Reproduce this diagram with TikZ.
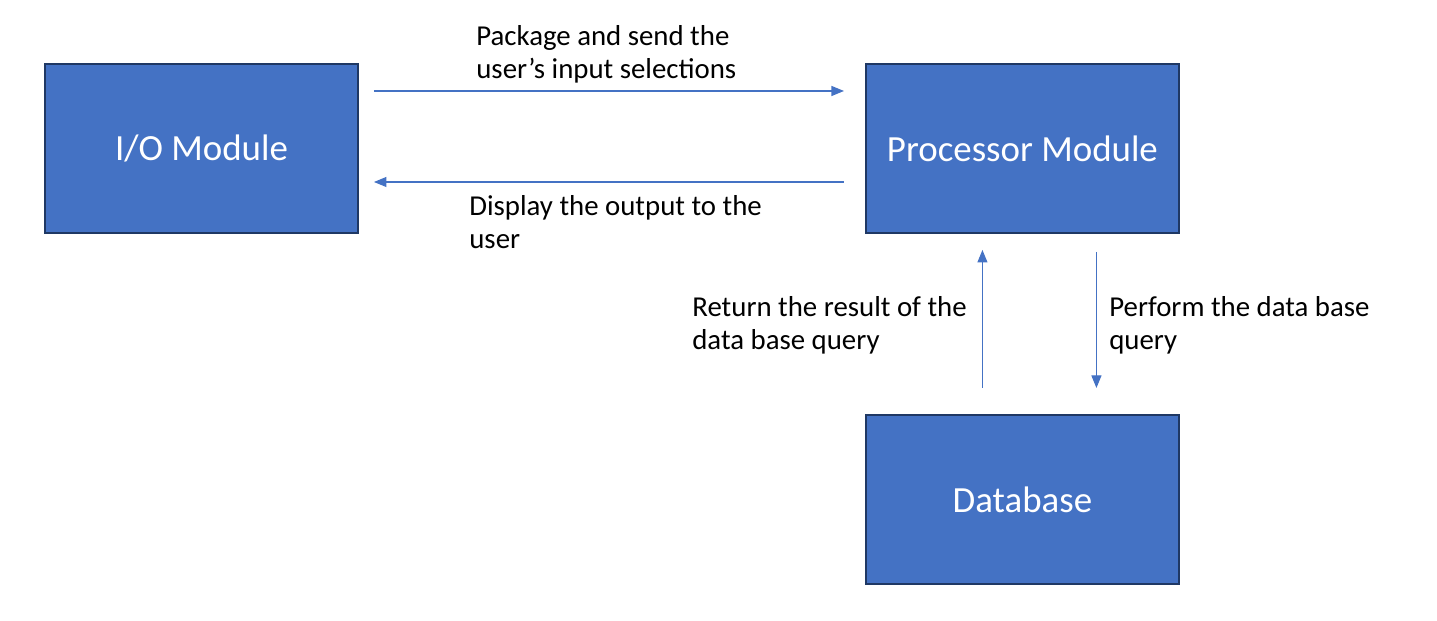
\documentclass[tikz,border=0pt]{standalone}
\usepackage{xcolor}
\usepackage{fontspec}
\setmainfont{Carlito}
\usepackage{tikz}
\usetikzlibrary{arrows.meta, positioning}

\definecolor{boxblue}{HTML}{4472C4}
\definecolor{boxedge}{HTML}{1F3864}

\begin{document}
\begin{tikzpicture}[
    module/.style={rectangle, draw=boxedge, line width=1.1pt, fill=boxblue, text=white, minimum width=6.26cm, minimum height=3.38cm, font=\fontsize{21}{24}\selectfont},
    arrow/.style={-{Triangle[length=0.25cm, width=0.2cm]}, draw=boxblue, line width=0.6pt},
    note/.style={anchor=north west, inner sep=0pt, align=left, font=\fontsize{16.4}{18.9}\selectfont}
]
\useasboundingbox (0,0) rectangle (28.74,12.42);

% I/O Module
\node[module] (io) at (4.03,9.45) {I/O Module};

% Processor Module
\node[module, right=10.12cm of io] (processor) {Processor Module};

% Database
\node[module, below=3.6cm of processor] (database) {Database};

% Arrows between I/O and Processor
\draw[arrow] ([shift={(0.3,1.15)}]io.east) -- ([shift={(-0.42,1.15)}]processor.west);
\draw[arrow] ([shift={(-0.42,-0.67)}]processor.west) -- ([shift={(0.3,-0.67)}]io.east);

% Arrows between Processor and Database
\draw[arrow] ([shift={(-0.8,0.52)}]database.north) -- ([shift={(-0.8,-0.32)}]processor.south);
\draw[arrow] ([shift={(1.48,-0.36)}]processor.south) -- ([shift={(1.48,0.52)}]database.north);

% Labels
\node[note] (send) at (9.52,11.92) {Package and send the\\user’s input selections};
\node[note] (display) at (9.38,8.52) {Display the output to the\\user};
\node[note] (result) at (13.84,6.5) {Return the result of the\\data base query};
\node[note] (query) at (22.18,6.5) {Perform the data base\\query};

\end{tikzpicture}
\end{document}
